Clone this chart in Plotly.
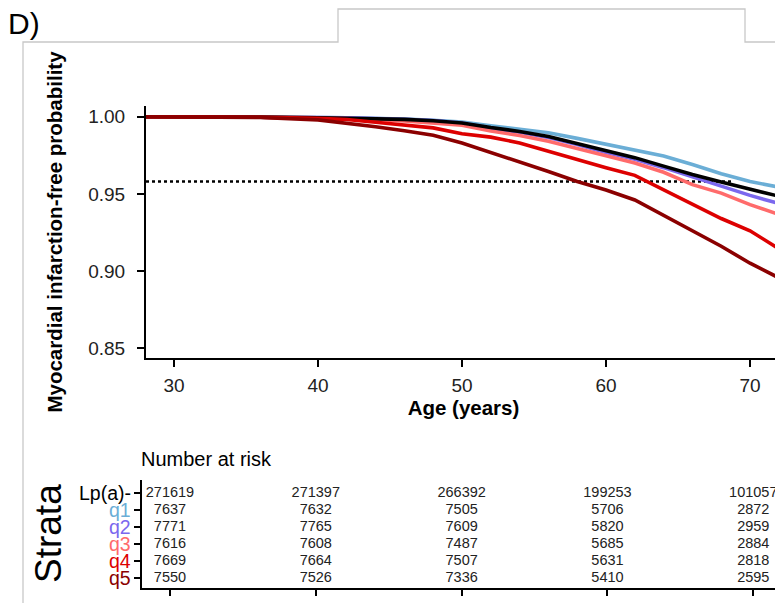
import plotly.graph_objects as go

# ---------------- data ----------------
ages = [28, 32, 36, 40, 42, 44, 46, 48, 50, 52, 54, 56, 58, 60, 62, 64, 66, 68, 70, 71.9]
surv_neg = [1.0, 1.0, 0.9998, 0.9994, 0.9992, 0.9989, 0.9983, 0.9974, 0.996, 0.993, 0.9905, 0.9872, 0.9828, 0.978, 0.9735, 0.968, 0.9625, 0.9577, 0.953, 0.9487]
surv_q1 = [1.0, 1.0, 0.9998, 0.9995, 0.9994, 0.9992, 0.9985, 0.9977, 0.9966, 0.9942, 0.992, 0.9897, 0.986, 0.9823, 0.9786, 0.9745, 0.969, 0.963, 0.958, 0.9545]
surv_q2 = [1.0, 1.0, 0.9999, 0.9995, 0.9993, 0.999, 0.9984, 0.9975, 0.996, 0.9925, 0.99, 0.9865, 0.982, 0.9768, 0.9725, 0.967, 0.961, 0.9555, 0.949, 0.944]
surv_q3 = [1.0, 1.0, 0.9998, 0.9993, 0.999, 0.9983, 0.9973, 0.996, 0.9945, 0.9908, 0.9878, 0.9842, 0.9795, 0.9745, 0.970, 0.964, 0.956, 0.9505, 0.943, 0.937]
surv_q4 = [1.0, 1.0, 0.9997, 0.999, 0.9982, 0.9965, 0.9948, 0.9928, 0.989, 0.9868, 0.983, 0.9775, 0.9725, 0.967, 0.962, 0.9525, 0.943, 0.934, 0.926, 0.915]
surv_q5 = [1.0, 0.9999, 0.9995, 0.998, 0.996, 0.9935, 0.991, 0.988, 0.983, 0.977, 0.971, 0.9645, 0.958, 0.9525, 0.946, 0.936, 0.926, 0.916, 0.905, 0.896]

strata = ["Lp(a)-", "q1", "q2", "q3", "q4", "q5"]
colors = ["#000000", "#6baed6", "#7b68ee", "#ff6b6b", "#dd0000", "#8b0000"]
risk_times = [30, 40, 50, 60, 70]
risk_neg = [271619, 271397, 266392, 199253, 101057]
risk_q1 = [7637, 7632, 7505, 5706, 2872]
risk_q2 = [7771, 7765, 7609, 5820, 2959]
risk_q3 = [7616, 7608, 7487, 5685, 2884]
risk_q4 = [7669, 7664, 7507, 5631, 2818]
risk_q5 = [7550, 7526, 7336, 5410, 2595]
ref_level = 0.958
ref_end_age = 68.7

# page body has an 8px margin; lay out in window pixels and convert
OFF = 8
W, H = 783 - OFF, 603 - OFF
def px(x):
    return (x - OFF) / W
def py(y):
    return 1 - (y - OFF) / H

FONT = "Liberation Sans, Arial"

fig = go.Figure()

# reference dotted line
fig.add_trace(go.Scatter(x=[28.06, ref_end_age], y=[ref_level, ref_level], mode="lines",
                         line=dict(color="black", width=2.4, dash="dot"), showlegend=False,
                         hoverinfo="skip", xaxis="x", yaxis="y"))

series = [surv_q1, surv_q2, surv_q3, surv_neg, surv_q4, surv_q5]
series_cols = [colors[1], colors[2], colors[3], colors[0], colors[4], colors[5]]
for s, c in zip(series, series_cols):
    fig.add_trace(go.Scatter(x=ages, y=s, mode="lines", line=dict(color=c, width=3.6),
                             showlegend=False, xaxis="x", yaxis="y"))

# risk table
risk_rows = [risk_neg, risk_q1, risk_q2, risk_q3, risk_q4, risk_q5]
for i, row in enumerate(risk_rows):
    yv = 5 - i
    fig.add_trace(go.Scatter(x=risk_times, y=[yv] * len(risk_times), mode="text",
                             text=[str(v) for v in row],
                             textfont=dict(family=FONT, size=14.5, color="#222222"),
                             textposition="middle center", showlegend=False,
                             xaxis="x2", yaxis="y2"))

axis_font = dict(family=FONT, size=19, color="#222222")

fig.update_layout(
    width=W, height=H,
    margin=dict(l=0, r=0, t=0, b=0),
    paper_bgcolor="white", plot_bgcolor="white",
    xaxis=dict(domain=[px(146), px(781)], range=[28.06, 72.15], anchor="y",
               tickvals=[30, 40, 50, 60, 70], ticks="outside", ticklen=7, tickwidth=2,
               tickcolor="black", showline=True, linecolor="black", linewidth=2,
               showgrid=False, zeroline=False, tickfont=axis_font, ticklabelstandoff=2,
               title=dict(text="<b>Age (years)</b>", font=dict(family=FONT, size=20.5, color="black"), standoff=5)),
    yaxis=dict(domain=[py(358), py(106)], range=[0.8435, 1.007], anchor="x",
               tickvals=[0.85, 0.90, 0.95, 1.00], ticktext=["0.85", "0.90", "0.95", "1.00"],
               ticks="outside", ticklen=7, tickwidth=2, tickcolor="black",
               showline=True, linecolor="black", linewidth=2, showgrid=False, zeroline=False,
               tickfont=axis_font, ticklabelstandoff=8,
               title=dict(text="<b>Myocardial infarction-free probability</b>",
                          font=dict(family=FONT, size=20.5, color="black"), standoff=20)),
    xaxis2=dict(domain=[px(142), px(781)], range=[28.08, 71.9], anchor="y2",
                tickvals=[30, 40, 50, 60, 70], showticklabels=False, ticks="outside", ticklen=6,
                tickwidth=1.5, tickcolor="black", showline=True, linecolor="black", linewidth=2,
                showgrid=False, zeroline=False),
    yaxis2=dict(domain=[py(588), py(480)], range=[-0.59, 5.76], anchor="x2",
                tickvals=[0, 1, 2, 3, 4, 5], showticklabels=False, ticks="outside", ticklen=6,
                tickwidth=1.5, tickcolor="black", showline=True, linecolor="black", linewidth=2,
                showgrid=False, zeroline=False),
)

annotations = []
# strata labels
for i, (lab, col) in enumerate(zip(strata, colors)):
    annotations.append(dict(x=px(133), y=py(493 + 17 * i), xref="paper", yref="paper",
                            text=lab, showarrow=False, xanchor="right", yanchor="middle",
                            font=dict(family=FONT, size=19.5, color=col)))
annotations.append(dict(x=px(139), y=py(459), xref="paper", yref="paper", text="Number at risk",
                        showarrow=False, xanchor="left", yanchor="middle",
                        font=dict(family=FONT, size=20, color="black")))
annotations.append(dict(x=px(48), y=py(534), xref="paper", yref="paper", text="Strata",
                        showarrow=False, xanchor="center", yanchor="middle", textangle=-90,
                        font=dict(family=FONT, size=37, color="black")))
annotations.append(dict(x=px(6), y=py(23), xref="paper", yref="paper", text="D)",
                        showarrow=False, xanchor="left", yanchor="middle",
                        font=dict(family=FONT, size=30, color="black")))
fig.update_layout(annotations=annotations)

# page frame with tab
frame_path = (f"M {px(23)} {py(603)} L {px(23)} {py(42)} L {px(338)} {py(42)} L {px(338)} {py(9)} "
              f"L {px(745)} {py(9)} L {px(745)} {py(42)} L {px(783)} {py(42)}")
fig.add_shape(type="path", path=frame_path, xref="paper", yref="paper",
              line=dict(color="#c8c8c8", width=1.3))

fig.write_html("out.html")
